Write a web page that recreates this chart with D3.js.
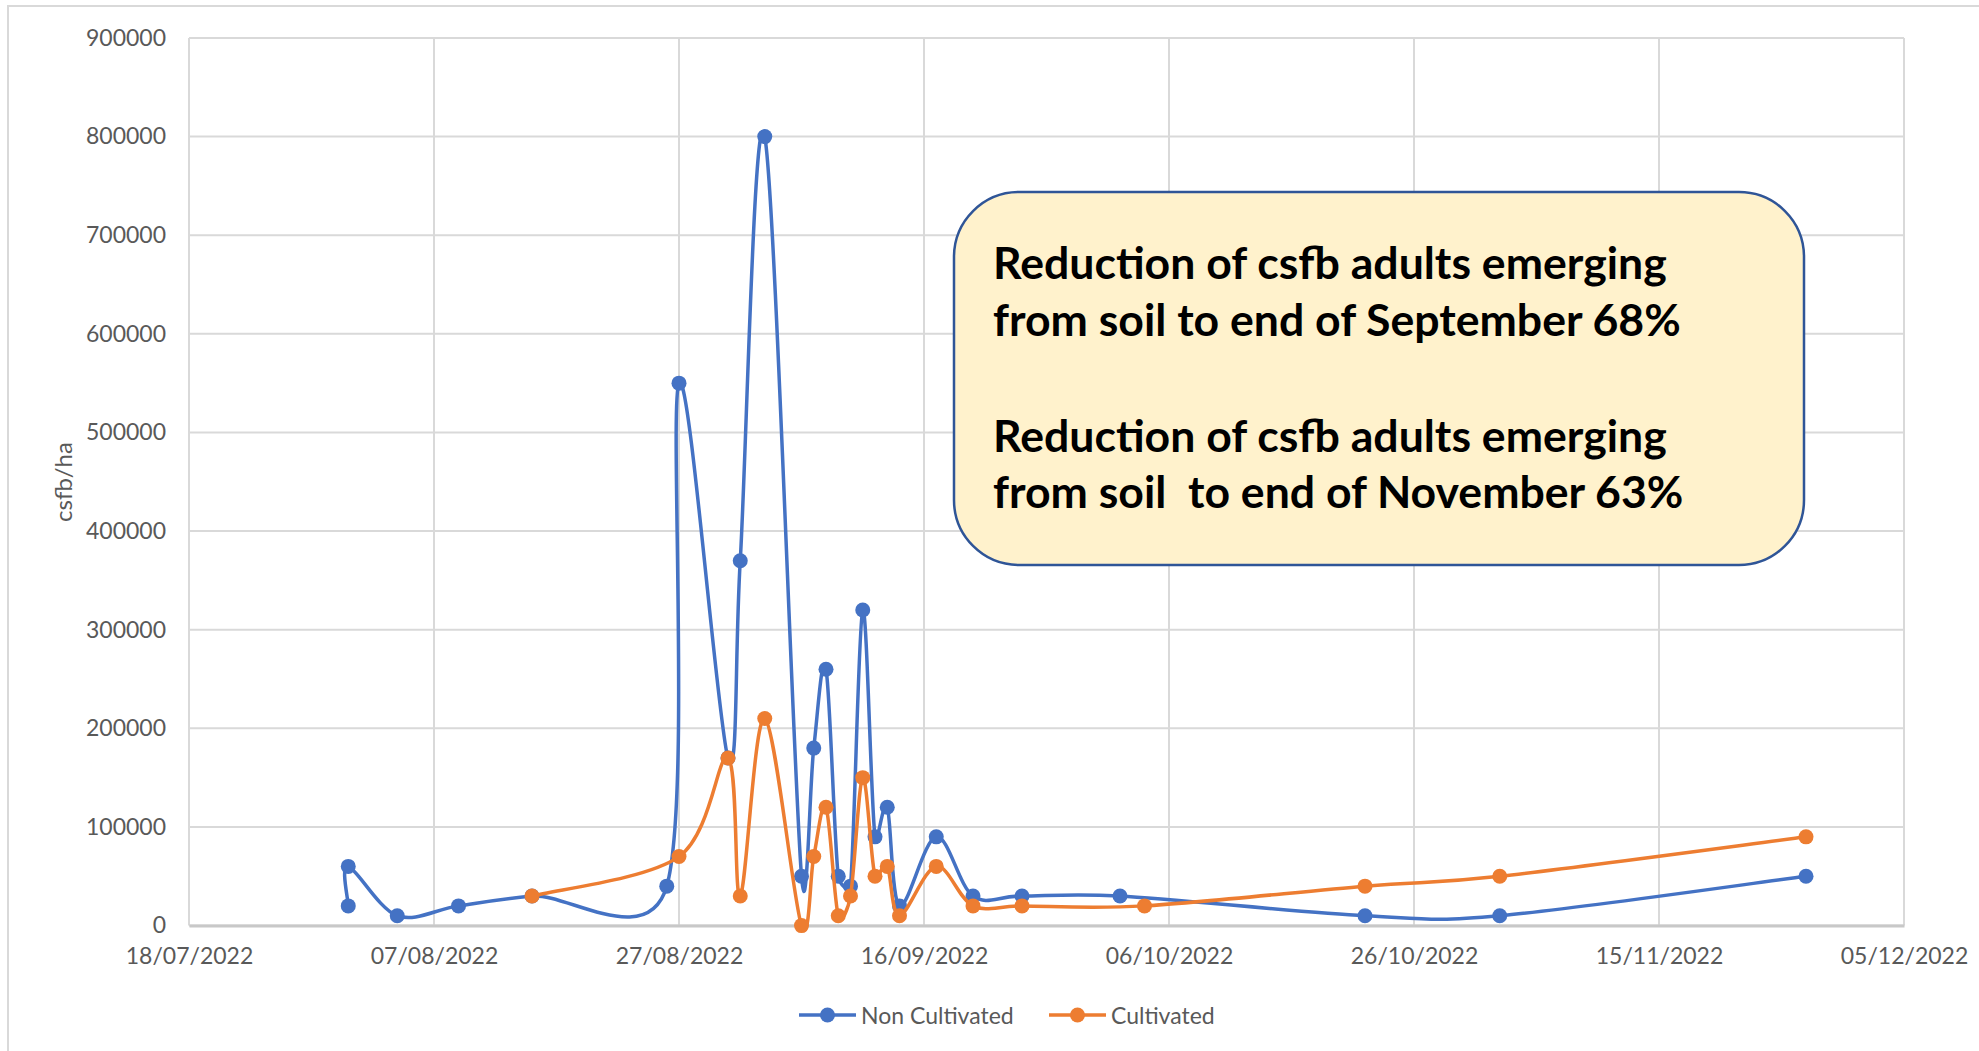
<!DOCTYPE html>
<html lang="en">
  <head>
    <meta charset="UTF-8" />
    <title>csfb/ha</title>
    <script src="https://cdnjs.cloudflare.com/ajax/libs/d3/7.8.5/d3.min.js"></script>
    <style>
      body {
        margin: 0;
        background: #ffffff;
      }
      svg {
        display: block;
        font-family: Lato, "Noto Sans", sans-serif;
      }
    </style>
  </head>
  <body>
    <div id="main-div"></div>
    <script>
      // data
      let nonCultDates = [
        "31/07/2022", "31/07/2022", "04/08/2022", "09/08/2022", "15/08/2022",
        "26/08/2022", "27/08/2022", "31/08/2022", "01/09/2022", "03/09/2022",
        "06/09/2022", "07/09/2022", "08/09/2022", "09/09/2022", "10/09/2022",
        "11/09/2022", "12/09/2022", "13/09/2022", "14/09/2022", "17/09/2022",
        "20/09/2022", "24/09/2022", "02/10/2022", "22/10/2022", "02/11/2022",
        "27/11/2022",
      ];
      let nonCultValues = [
        20000, 60000, 10000, 20000, 30000, 40000, 550000, 170000, 370000,
        800000, 50000, 180000, 260000, 50000, 40000, 320000, 90000, 120000,
        20000, 90000, 30000, 30000, 30000, 10000, 10000, 50000,
      ];
      let cultDates = [
        "15/08/2022", "27/08/2022", "31/08/2022", "01/09/2022", "03/09/2022",
        "06/09/2022", "07/09/2022", "08/09/2022", "09/09/2022", "10/09/2022",
        "11/09/2022", "12/09/2022", "13/09/2022", "14/09/2022", "17/09/2022",
        "20/09/2022", "24/09/2022", "04/10/2022", "22/10/2022", "02/11/2022",
        "27/11/2022",
      ];
      let cultValues = [
        30000, 70000, 170000, 30000, 210000, 0, 70000, 120000, 10000, 30000,
        150000, 50000, 60000, 10000, 60000, 20000, 20000, 20000, 40000, 50000,
        90000,
      ];
      let xTickLabels = [
        "18/07/2022", "07/08/2022", "27/08/2022", "16/09/2022",
        "06/10/2022", "26/10/2022", "15/11/2022", "05/12/2022",
      ];
      let yTickValues = [
        0, 100000, 200000, 300000, 400000, 500000, 600000, 700000, 800000,
        900000,
      ];
      let seriesNames = ["Non Cultivated", "Cultivated"];
      let noteLines = [
        "Reduction of csfb adults emerging",
        "from soil to end of September 68%",
        "Reduction of csfb adults emerging",
        "from soil  to end of November 63%",
      ];

      let parse = d3.utcParse("%d/%m/%Y");
      let blue = "#4472c4";
      let orange = "#ed7d31";
      let gridColor = "#d9d9d9";
      let labelColor = "#595959";

      // spreadsheet-style smoothed line: catmull-rom bezier handles,
      // each handle capped at half the length of its segment
      function SmoothCurve(context) {
        this._context = context;
      }
      SmoothCurve.prototype = {
        areaStart() {},
        areaEnd() {},
        lineStart() {
          this._pts = [];
        },
        point(px, py) {
          this._pts.push([+px, +py]);
        },
        lineEnd() {
          let p = this._pts;
          let c = this._context;
          let n = p.length;
          if (!n) return;
          c.moveTo(p[0][0], p[0][1]);
          for (let i = 0; i < n - 1; i++) {
            let p0 = p[Math.max(i - 1, 0)];
            let p1 = p[i];
            let p2 = p[i + 1];
            let p3 = p[Math.min(i + 2, n - 1)];
            let half = Math.hypot(p2[0] - p1[0], p2[1] - p1[1]) / 2;
            let ax = (p2[0] - p0[0]) / 6;
            let ay = (p2[1] - p0[1]) / 6;
            let bx = (p3[0] - p1[0]) / 6;
            let by = (p3[1] - p1[1]) / 6;
            let la = Math.hypot(ax, ay);
            let lb = Math.hypot(bx, by);
            if (la > half) {
              ax *= half / la;
              ay *= half / la;
            }
            if (lb > half) {
              bx *= half / lb;
              by *= half / lb;
            }
            c.bezierCurveTo(p1[0] + ax, p1[1] + ay, p2[0] - bx, p2[1] - by, p2[0], p2[1]);
          }
        },
      };
      let curveSmooth = (context) => new SmoothCurve(context);

      let series = [
        {
          name: seriesNames[0],
          color: blue,
          data: nonCultDates.map((d, i) => ({ date: parse(d), value: nonCultValues[i] })),
        },
        {
          name: seriesNames[1],
          color: orange,
          data: cultDates.map((d, i) => ({ date: parse(d), value: cultValues[i] })),
        },
      ];

      let svg = d3
        .select("#main-div")
        .append("svg")
        .attr("width", 1979)
        .attr("height", 1051);

      // outer chart frame
      svg
        .append("rect")
        .attr("x", 8)
        .attr("y", 6)
        .attr("width", 2100)
        .attr("height", 1200)
        .attr("fill", "none")
        .attr("stroke", gridColor)
        .attr("stroke-width", 2);

      let plotLeft = 189;
      let plotRight = 1904;
      let plotTop = 38;
      let plotBottom = 925.6;

      let x = d3
        .scaleUtc()
        .domain([parse(xTickLabels[0]), parse(xTickLabels[xTickLabels.length - 1])])
        .range([plotLeft, plotRight]);
      let y = d3.scaleLinear().domain([0, 900000]).range([plotBottom, plotTop]);

      //gridlines
      let grid = svg.append("g");
      grid
        .selectAll(".hgrid")
        .data(yTickValues)
        .join("line")
        .attr("x1", plotLeft)
        .attr("x2", plotRight)
        .attr("y1", (d) => y(d))
        .attr("y2", (d) => y(d))
        .attr("stroke", gridColor)
        .attr("stroke-width", 2);
      grid
        .selectAll(".vgrid")
        .data(xTickLabels)
        .join("line")
        .attr("x1", (d) => x(parse(d)))
        .attr("x2", (d) => x(parse(d)))
        .attr("y1", plotTop)
        .attr("y2", plotBottom)
        .attr("stroke", gridColor)
        .attr("stroke-width", 2);

      //x axis
      let xAxis = svg
        .append("g")
        .attr("transform", "translate(0," + plotBottom + ")")
        .call(
          d3
            .axisBottom(x)
            .tickValues(xTickLabels.map(parse))
            .tickFormat(d3.utcFormat("%d/%m/%Y"))
            .tickSize(0)
            .tickPadding(22)
        );
      xAxis.select(".domain").attr("stroke", "#c8c8c8").attr("stroke-width", 3);
      xAxis
        .selectAll("text")
        .attr("fill", labelColor)
        .style("font-size", "23px")
        .style("font-family", "Lato, sans-serif");

      //y axis
      let yAxis = svg
        .append("g")
        .attr("transform", "translate(" + plotLeft + ",0)")
        .call(
          d3
            .axisLeft(y)
            .tickValues(yTickValues)
            .tickFormat(d3.format("d"))
            .tickSize(0)
            .tickPadding(23)
        );
      yAxis.select(".domain").remove();
      yAxis
        .selectAll("text")
        .attr("fill", labelColor)
        .style("font-size", "23px")
        .style("font-family", "Lato, sans-serif");

      svg
        .append("text")
        .attr("transform", "translate(62,482) rotate(-90)")
        .attr("text-anchor", "middle")
        .attr("dominant-baseline", "central")
        .attr("fill", labelColor)
        .style("font-size", "24px")
        .text("csfb/ha");

      //lines and markers
      let line = d3
        .line()
        .x((d) => x(d.date))
        .y((d) => y(d.value))
        .curve(curveSmooth);

      series.forEach((s) => {
        svg
          .append("path")
          .datum(s.data)
          .attr("d", line)
          .attr("fill", "none")
          .attr("stroke", s.color)
          .attr("stroke-width", 3.5)
          .attr("stroke-linejoin", "round")
          .attr("stroke-linecap", "round");
        svg
          .append("g")
          .selectAll("circle")
          .data(s.data)
          .join("circle")
          .attr("cx", (d) => x(d.date))
          .attr("cy", (d) => y(d.value))
          .attr("r", 7.5)
          .attr("fill", s.color);
      });

      //legend
      let legendX = [799, 1049];
      let legend = svg
        .append("g")
        .selectAll("g")
        .data(series)
        .join("g")
        .attr("transform", (d, i) => "translate(" + legendX[i] + ",1015)");
      legend
        .append("line")
        .attr("x1", 0)
        .attr("x2", 57)
        .attr("stroke", (d) => d.color)
        .attr("stroke-width", 3.5);
      legend
        .append("circle")
        .attr("cx", 28.5)
        .attr("r", 7.5)
        .attr("fill", (d) => d.color);
      legend
        .append("text")
        .attr("x", 62)
        .attr("dominant-baseline", "central")
        .attr("fill", labelColor)
        .style("font-size", "23px")
        .text((d) => d.name);

      //annotation box
      svg
        .append("rect")
        .attr("x", 954)
        .attr("y", 192)
        .attr("width", 850)
        .attr("height", 373)
        .attr("rx", 65)
        .attr("ry", 65)
        .attr("fill", "#fff2cc")
        .attr("stroke", "#2f5597")
        .attr("stroke-width", 2.5);

      let baselines = [279, 336, 452, 508];
      let note = svg
        .append("g")
        .selectAll("text")
        .data(noteLines)
        .join("text")
        .attr("x", 993)
        .attr("y", (d, i) => baselines[i])
        .attr("fill", "#000000")
        .style("font-weight", "bold")
        .style("font-size", "40px")
        .style("white-space", "pre")
        .text((d) => d);

      // fit the note font so the second line spans the same width as in the picture
      let w = note.nodes()[1].getComputedTextLength();
      let fs = (40 * 688) / w;
      note.style("font-size", fs + "px");
    </script>
  </body>
</html>
